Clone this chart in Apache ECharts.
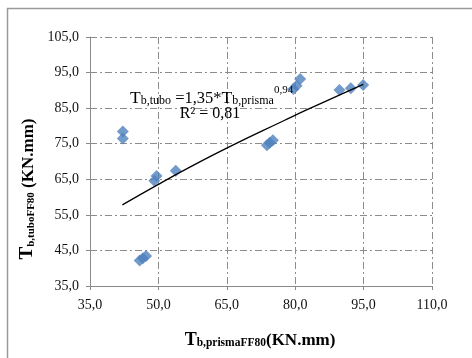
<!DOCTYPE html>
<html>
<head>
<meta charset="utf-8">
<script src="https://cdn.jsdelivr.net/npm/echarts@6/dist/echarts.min.js"></script>
<style>html,body{margin:0;padding:0;background:#fff;}#c{width:472px;height:358px;}</style>
</head>
<body>
<div id="c"></div>
<script>
// ---- data ----
const xPrisma = [42.2, 42.2, 49.6, 49.1, 53.8, 45.9, 46.6, 47.3, 73.8, 74.4, 75.1, 79.6, 80.3, 81.1, 89.7, 92.2, 94.9];
const yTubo   = [78.4, 76.5, 65.9, 64.6, 67.4, 42.2, 42.8, 43.4, 74.6, 75.3, 76.0, 90.4, 91.3, 93.2, 90.1, 90.6, 91.5];
const trendX = [42.1, 49.9, 56.9, 65.2, 77.7, 82.5, 94.9];
const trendY = [57.8, 63.5, 68.4, 73.9, 81.6, 84.5, 91.7];
const xTicks = [35, 50, 65, 80, 95, 110];
const yTicks = [35, 45, 55, 65, 75, 85, 95, 105];

// axes start at 0 internally so tick counting matches; labels add the offset back
const X0 = xTicks[0], Y0 = yTicks[0];
const fmt = v => v.toFixed(1).replace('.', ',');
const serif = 'Liberation Serif';

const chart = echarts.init(document.getElementById('c'), null, {renderer: 'canvas'});
const gridLine = {show: true, lineStyle: {color: '#8c8c8c', width: 1, type: [7, 3, 2, 3]}};
const axisCommon = {
  axisLine: {show: true, onZero: false, lineStyle: {color: '#8a8a8a', width: 1}},
  axisTick: {show: true, length: 4, inside: false, lineStyle: {color: '#8a8a8a'}},
  splitLine: gridLine
};

chart.setOption({
  animation: false,
  backgroundColor: '#fff',
  grid: {left: 90, top: 37, width: 342, height: 249, containLabel: false},
  xAxis: Object.assign({
    type: 'value',
    min: 0, max: xTicks[xTicks.length - 1] - X0, interval: xTicks[1] - xTicks[0],
    axisLabel: {formatter: v => fmt(v + X0), fontFamily: serif, fontSize: 14, color: '#111', margin: 12}
  }, axisCommon),
  yAxis: Object.assign({
    type: 'value',
    min: 0, max: yTicks[yTicks.length - 1] - Y0, interval: yTicks[1] - yTicks[0],
    axisLabel: {formatter: v => fmt(v + Y0), fontFamily: serif, fontSize: 14, color: '#111', margin: 11}
  }, axisCommon),
  series: [
    {
      type: 'scatter',
      symbol: 'diamond',
      symbolSize: 12,
      itemStyle: {color: '#4F81BD'},
      data: xPrisma.map((x, i) => [x - X0, yTubo[i] - Y0]),
      z: 3
    },
    {
      type: 'line',
      smooth: true,
      showSymbol: false,
      lineStyle: {color: '#000', width: 1.3},
      data: trendX.map((x, i) => [x - X0, trendY[i] - Y0]),
      z: 4
    }
  ],
  graphic: [
    {
      type: 'rect', silent: true,
      shape: {x: 7.5, y: 8.5, width: 600, height: 500},
      style: {fill: 'none', stroke: '#9a9a9a', lineWidth: 1.5}
    },
    {
      type: 'text', x: 130, y: 85, z: 10,
      style: {
        text: '{T|T}{s|b,tubo}{n| =1,35*}{T|T}{s|b,prisma}{p|0,94}',
        fill: '#000',
        rich: {
          T: {fontFamily: serif, fontSize: 17.5, lineHeight: 22, verticalAlign: 'bottom'},
          n: {fontFamily: serif, fontSize: 16.5, lineHeight: 22, verticalAlign: 'bottom'},
          s: {fontFamily: serif, fontSize: 12, lineHeight: 9, verticalAlign: 'bottom'},
          p: {fontFamily: serif, fontSize: 11, lineHeight: 14, verticalAlign: 'top'}
        }
      }
    },
    {
      type: 'text', x: 210, y: 114, z: 10,
      style: {text: 'R² = 0,81', fill: '#000', font: '16px "Liberation Serif"', align: 'center', verticalAlign: 'middle'}
    },
    {
      type: 'text', x: 26, y: 189, rotation: Math.PI / 2, z: 10,
      style: {
        text: '{T|T}{s|b,tuboFF80}{n| (KN.mm)}',
        fill: '#000', align: 'center', verticalAlign: 'middle',
        rich: {
          T: {fontFamily: serif, fontWeight: 'bold', fontSize: 19, lineHeight: 22, verticalAlign: 'bottom'},
          n: {fontFamily: serif, fontWeight: 'bold', fontSize: 17, lineHeight: 22, verticalAlign: 'bottom'},
          s: {fontFamily: serif, fontWeight: 'bold', fontSize: 11, lineHeight: 8, verticalAlign: 'bottom'}
        }
      }
    },
    {
      type: 'text', x: 260, y: 338, z: 10,
      style: {
        text: '{T|T}{s|b,prismaFF80}{n|(KN.mm)}',
        fill: '#000', align: 'center', verticalAlign: 'middle',
        rich: {
          T: {fontFamily: serif, fontWeight: 'bold', fontSize: 18, lineHeight: 22, verticalAlign: 'bottom'},
          n: {fontFamily: serif, fontWeight: 'bold', fontSize: 17, lineHeight: 22, verticalAlign: 'bottom'},
          s: {fontFamily: serif, fontWeight: 'bold', fontSize: 11.5, lineHeight: 8, verticalAlign: 'bottom'}
        }
      }
    }
  ]
});
</script>
</body>
</html>
